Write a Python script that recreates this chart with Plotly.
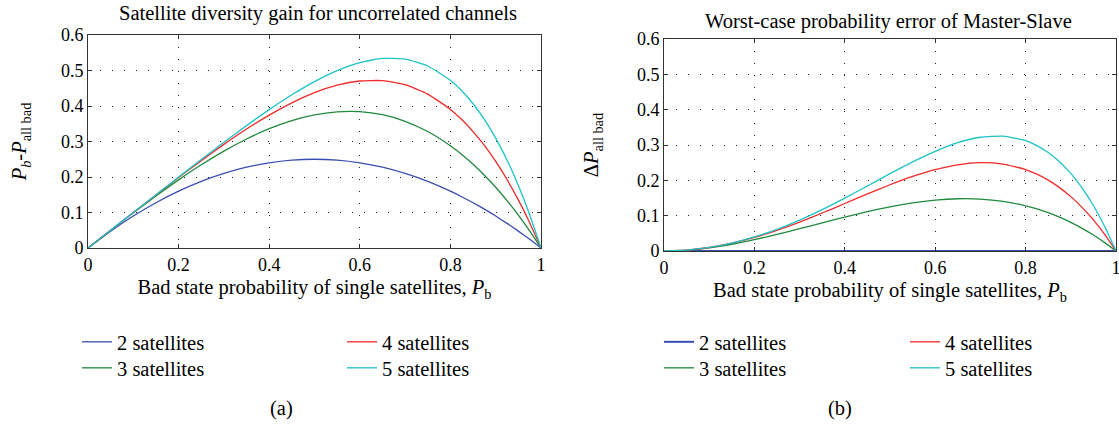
import plotly.graph_objects as go

# ---------------- data ----------------
pb = [0, 0.05, 0.1, 0.15, 0.2, 0.25, 0.3, 0.35, 0.4, 0.45, 0.5,
      0.55, 0.6, 0.65, 0.7, 0.75, 0.8, 0.825, 0.85, 0.875, 0.9, 0.925, 0.95, 0.975, 1.0]

# (a) Satellite diversity gain
gain_2 = [0, 0.0475, 0.09, 0.1275, 0.16, 0.1875, 0.21, 0.2275, 0.24, 0.2475, 0.25,
          0.2475, 0.24, 0.2275, 0.21, 0.1875, 0.16, 0.1444, 0.1275, 0.1094, 0.09, 0.0694,
          0.0475, 0.0244, 0]
gain_3 = [0, 0.0499, 0.099, 0.1466, 0.192, 0.2344, 0.273, 0.3071, 0.336, 0.3589, 0.375,
          0.3836, 0.384, 0.3754, 0.357, 0.3281, 0.288, 0.2635, 0.2359, 0.2051, 0.171, 0.1335,
          0.0926, 0.0481, 0]
gain_4 = [0, 0.05, 0.0999, 0.1495, 0.1984, 0.2461, 0.2919, 0.335, 0.3744, 0.409, 0.4375,
          0.4585, 0.4704, 0.4715, 0.4599, 0.4336, 0.3904, 0.3618, 0.328, 0.2888, 0.2439, 0.1929,
          0.1355, 0.0713, 0]
gain_5 = [0, 0.05, 0.1, 0.1499, 0.1997, 0.249, 0.2976, 0.3447, 0.3898, 0.4315, 0.4688,
          0.4997, 0.5222, 0.534, 0.5319, 0.5127, 0.4723, 0.4428, 0.4063, 0.3621, 0.3095, 0.2478,
          0.1762, 0.0939, 0]

# (b) Worst-case probability error of Master-Slave
err_2 = [0, 0, 0, 0, 0, 0, 0, 0, 0, 0, 0, 0, 0, 0, 0, 0, 0, 0, 0, 0, 0, 0, 0, 0, 0]
err_3 = [0, 0.0024, 0.009, 0.0191, 0.032, 0.0469, 0.063, 0.0796, 0.096, 0.1114, 0.125,
         0.1361, 0.144, 0.1479, 0.147, 0.1406, 0.128, 0.1191, 0.1084, 0.0957, 0.081, 0.0641,
         0.0451, 0.0237, 0]
err_4 = [0, 0.0025, 0.0099, 0.022, 0.0384, 0.0586, 0.0819, 0.1075, 0.1344, 0.1615, 0.1875,
         0.211, 0.2304, 0.244, 0.2499, 0.2461, 0.2304, 0.2174, 0.2005, 0.1794, 0.1539, 0.1235,
         0.088, 0.0469, 0]
err_5 = [0, 0.0025, 0.01, 0.0224, 0.0397, 0.0615, 0.0876, 0.1172, 0.1498, 0.184, 0.2188,
         0.2522, 0.2822, 0.3065, 0.3219, 0.3252, 0.3123, 0.2984, 0.2788, 0.2527, 0.2195, 0.1784,
         0.1287, 0.0695, 0]

series_names = ["2 satellites", "3 satellites", "4 satellites", "5 satellites"]
x_ticks = [0, 0.2, 0.4, 0.6, 0.8, 1]
y_ticks = [0, 0.1, 0.2, 0.3, 0.4, 0.5, 0.6]

# ---------------- style ----------------
colors = ["#3a4db0", "#1f8a3c", "#f02a2a", "#1cc3c8"]
FONT = "Liberation Serif"
W, H = 1119, 425
TXT = 20.5

fig = go.Figure()

left_series = [gain_2, gain_3, gain_4, gain_5]
right_series = [err_2, err_3, err_4, err_5]
left_legends = ["legend", "legend2", "legend3", "legend4"]
right_legends = ["legend5", "legend6", "legend7", "legend8"]

for i, ys in enumerate(left_series):
    fig.add_trace(go.Scatter(
        x=pb, y=ys, mode="lines", name=series_names[i],
        line=dict(color=colors[i], width=1.3, shape="spline", smoothing=0.5),
        xaxis="x", yaxis="y", legend=left_legends[i]))
for i, ys in enumerate(right_series):
    fig.add_trace(go.Scatter(
        x=pb, y=ys, mode="lines", name=series_names[i],
        line=dict(color=colors[i], width=1.3 if i else 2, shape="spline", smoothing=0.5),
        xaxis="x2", yaxis="y2", legend=right_legends[i]))


def px_x(p):
    return p / W


def px_y(p):
    return 1 - p / H


axis_common = dict(
    showline=True, linecolor="#333333", linewidth=1, mirror="ticks",
    ticks="inside", ticklen=4, tickcolor="#333333",
    showgrid=True, gridcolor="#222222", gridwidth=1, griddash="1px,11px",
    zeroline=False, tickfont=dict(family=FONT, size=18, color="black"),
    fixedrange=True, automargin=False, ticklabeloverflow="allow",
)
title_font = dict(family=FONT, size=TXT, color="black")

fig.update_layout(
    font=dict(family=FONT, size=TXT, color="black"),
    xaxis=dict(axis_common, domain=[px_x(88), px_x(541)], range=[0, 1],
               tickvals=x_ticks, anchor="y",
               title=dict(text="Bad state probability of single satellites, <i>P</i><sub>b</sub>",
                          font=title_font, standoff=6)),
    yaxis=dict(axis_common, domain=[px_y(248), px_y(35)], range=[0, 0.6],
               tickvals=y_ticks, anchor="x",
               title=dict(text="<i>P</i><sub><i>b</i></sub>-<i>P</i><sub>all bad</sub>",
                          font=title_font, standoff=28)),
    xaxis2=dict(axis_common, domain=[px_x(664), px_x(1116)], range=[0, 1],
                tickvals=x_ticks, anchor="y2",
                title=dict(text="Bad state probability of single satellites, <i>P</i><sub>b</sub>",
                           font=title_font, standoff=6)),
    yaxis2=dict(axis_common, domain=[px_y(251), px_y(39)], range=[0, 0.6],
                tickvals=y_ticks, anchor="x2",
                title=dict(text="Δ<i>P</i><sub>all bad</sub>",
                           font=title_font, standoff=32)),
)

legend_common = dict(
    orientation="v", xanchor="left", yanchor="top",
    font=dict(family=FONT, size=TXT, color="black"),
    bgcolor="rgba(0,0,0,0)", borderwidth=0, itemwidth=30,
)
legend_pos = {  # (left px, top px) of each legend entry
    "legend": (77, 322), "legend2": (77, 348),
    "legend3": (342, 322), "legend4": (342, 348),
    "legend5": (659, 322), "legend6": (659, 348),
    "legend7": (905, 322), "legend8": (905, 348),
}
fig.update_layout(**{k: dict(legend_common, x=px_x(v[0]), y=px_y(v[1]))
                     for k, v in legend_pos.items()})

annotations = [
    dict(text="Satellite diversity gain for uncorrelated channels", x=px_x(318), y=px_y(13),
         xref="paper", yref="paper", showarrow=False, xanchor="center", yanchor="middle",
         font=title_font),
    dict(text="Worst-case probability error of Master-Slave", x=px_x(888), y=px_y(22),
         xref="paper", yref="paper", showarrow=False, xanchor="center", yanchor="middle",
         font=title_font),
    dict(text="(a)", x=px_x(281), y=px_y(408), xref="paper", yref="paper",
         showarrow=False, xanchor="center", yanchor="middle", font=title_font),
    dict(text="(b)", x=px_x(840), y=px_y(408), xref="paper", yref="paper",
         showarrow=False, xanchor="center", yanchor="middle", font=title_font),
]

fig.update_layout(
    annotations=annotations,
    width=W, height=H,
    margin=dict(l=0, r=0, t=0, b=0, autoexpand=False),
    paper_bgcolor="white", plot_bgcolor="white",
    showlegend=True,
)

fig.write_html("out.html", config={"displayModeBar": False},
               post_script="document.body.style.margin='0px';"
                           "document.body.style.overflow='hidden';")
